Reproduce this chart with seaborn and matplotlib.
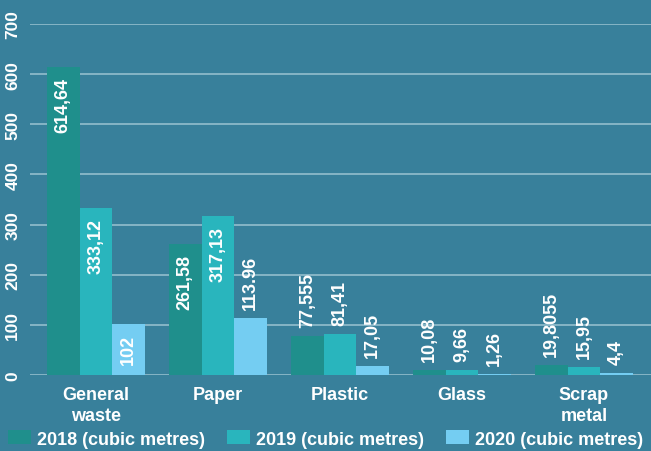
import matplotlib
matplotlib.use("Agg")
import matplotlib.pyplot as plt
from matplotlib.patches import Patch
import seaborn as sns
import pandas as pd

categories = ["General\nwaste", "Paper", "Plastic", "Glass", "Scrap\nmetal"]
series = ["2018 (cubic metres)", "2019 (cubic metres)", "2020 (cubic metres)"]
labels_2018 = ["614,64", "261,58", "77,555", "10,08", "19,8055"]
labels_2019 = ["333,12", "317,13", "81,41", "9,66", "15,95"]
labels_2020 = ["102", "113.96", "17,05", "1,26", "4,4"]
y_ticks = [0, 100, 200, 300, 400, 500, 600, 700]

bg = "#38809b"
colors = ["#1f8f8c", "#29b5bd", "#74cdf2"]
grid_color = "#8cb9c9"


def to_value(s):
    return float(s.replace(",", "."))


rows = []
for name, labs in zip(series, [labels_2018, labels_2019, labels_2020]):
    for cat, lab in zip(categories, labs):
        rows.append({"category": cat, "series": name, "value": to_value(lab), "label": lab})
df = pd.DataFrame(rows)

sns.set_theme(style="white")
plt.rcParams["font.family"] = ["Liberation Sans", "DejaVu Sans"]
plt.rcParams["font.weight"] = "bold"

fig = plt.figure(figsize=(6.51, 4.52), dpi=100, facecolor=bg)
ax = fig.add_axes([30 / 651, 76 / 452, 621 / 651, 351 / 452])
ax.set_facecolor(bg)

sns.barplot(data=df, x="category", y="value", hue="series", order=categories,
            hue_order=series, palette=colors, width=0.8, saturation=1,
            edgecolor="none", linewidth=0, legend=False, ax=ax)

ax.set_ylim(0, 700)
ax.set_xlim(-0.54, 4.55)
ax.set_yticks(y_ticks)
ax.set_yticklabels([str(t) for t in y_ticks], rotation=90, va="center")
for lab in ax.get_yticklabels():
    lab.set_color("white")
    lab.set_fontsize(12.5)
    lab.set_fontweight("bold")
ax.yaxis.grid(True, color=grid_color, linewidth=1.3)
ax.set_axisbelow(True)
ax.tick_params(axis="both", length=0)
ax.tick_params(axis="y", pad=7)
ax.tick_params(axis="x", pad=8)
for lab in ax.get_xticklabels():
    lab.set_color("white")
    lab.set_fontsize(13)
    lab.set_fontweight("bold")
    lab.set_linespacing(1.3)
ax.set_xlabel("")
ax.set_ylabel("")
for s in ax.spines.values():
    s.set_visible(False)

# value labels: inside the bar end when the text fits, above it otherwise
fig.canvas.draw()
renderer = fig.canvas.get_renderer()
px_per_unit = ax.transData.transform((0, 100))[1] - ax.transData.transform((0, 0))[1]
px_per_unit /= 100.0
pad_px = 10
for container, name in zip(ax.containers, series):
    sub = df[df["series"] == name].set_index("category").loc[categories]
    for bar, (cat, row) in zip(container, sub.iterrows()):
        x = bar.get_x() + bar.get_width() / 2
        h = bar.get_height()
        t = ax.text(x, h, row["label"], rotation=90, ha="center", va="top",
                    color="white", fontsize=13, fontweight="bold")
        ext = t.get_window_extent(renderer)
        text_len = ext.height
        bar_px = h * px_per_unit
        if text_len + 2 * pad_px <= bar_px:
            t.set_position((x, h - pad_px / px_per_unit))
            t.set_va("top")
        else:
            t.set_position((x, h + 9 / px_per_unit))
            t.set_va("bottom")

handles = [Patch(facecolor=c, edgecolor="none") for c in colors]
leg = fig.legend(handles, series, loc="center", bbox_to_anchor=(0.5, 1 - 440 / 452),
                 ncol=3, frameon=False, fontsize=13, handlelength=1.28,
                 handleheight=0.78, handletextpad=0.33, columnspacing=1.2,
                 borderaxespad=0, borderpad=0)
for txt in leg.get_texts():
    txt.set_color("white")
    txt.set_fontweight("bold")

fig.savefig("out.png", dpi=100, facecolor=bg)
